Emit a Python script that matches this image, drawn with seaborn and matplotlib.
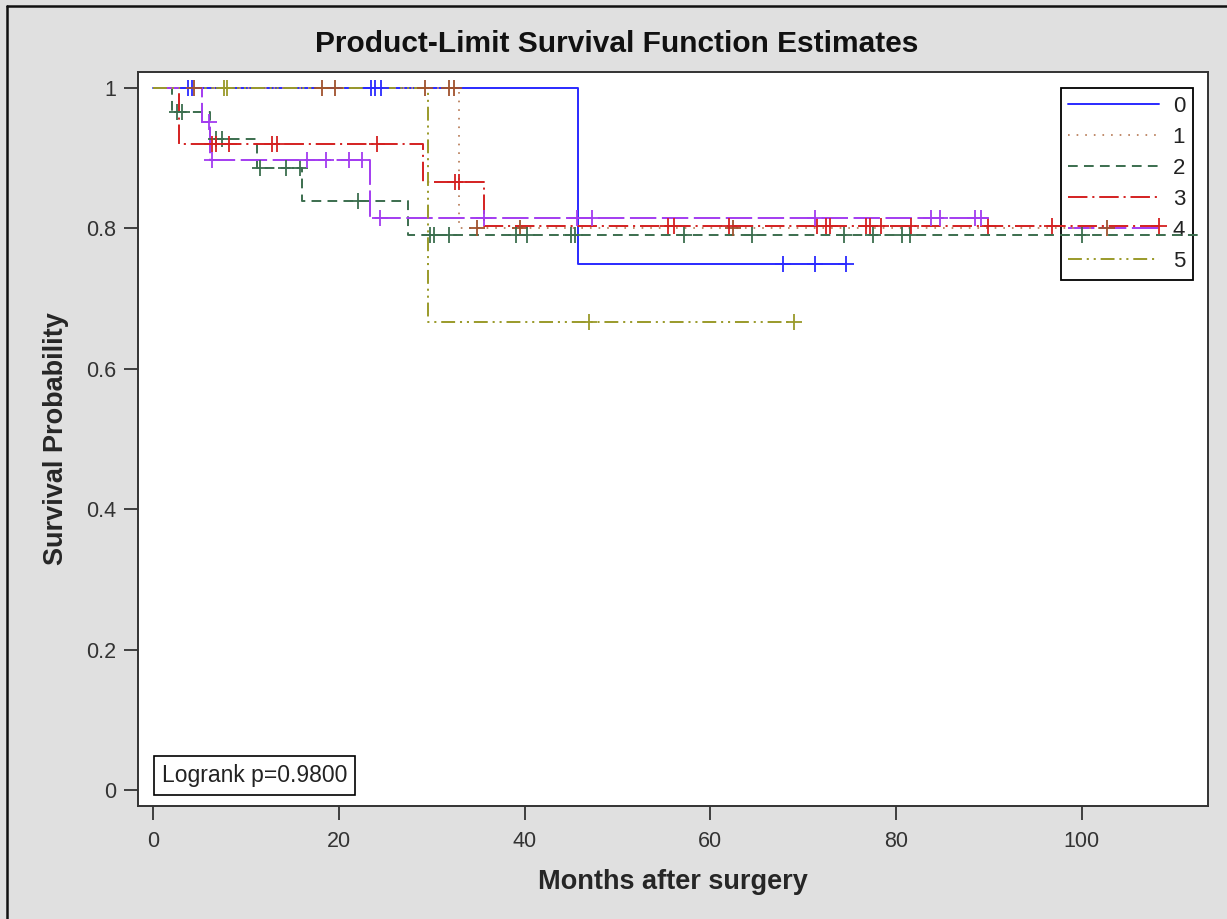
import matplotlib
matplotlib.use("Agg")
import numpy as np
import pandas as pd
import seaborn as sns
import matplotlib.pyplot as plt
from matplotlib.lines import Line2D

# Kaplan-Meier step curves (months, survival)
groups = ["0", "1", "2", "3", "4", "5"]

steps_0 = [45.7]
levels_0 = [1.0, 0.75]
end_0 = 74.6
cens_0 = [3.7, 4.2, 23.5, 23.9, 24.5, 67.8, 71.3, 74.6]

steps_1 = [32.9]
levels_1 = [1.0, 0.80]
end_1 = 102.7
cens_1 = [4.4, 18.2, 19.6, 29.3, 31.9, 32.4, 34.9, 39.5, 62.4, 102.7]

steps_2 = [2.0, 6.1, 11.2, 16.0, 27.4]
levels_2 = [1.0, 0.966, 0.927, 0.886, 0.839, 0.790]
end_2 = 112.6
cens_2 = [2.6, 3.1, 6.8, 7.4, 11.5, 14.3, 15.8, 22.0, 29.8, 30.2, 31.8,
          39.1, 40.3, 45.0, 45.4, 57.2, 64.5, 74.4, 77.5, 80.6, 81.5, 100.0]

steps_3 = [2.8, 29.1, 35.6]
levels_3 = [1.0, 0.920, 0.866, 0.803]
end_3 = 108.3
cens_3 = [6.3, 6.7, 8.2, 12.8, 13.3, 24.1, 32.5, 32.9, 55.4, 56.1, 62.0,
          71.5, 72.5, 72.9, 76.8, 77.2, 78.4, 81.6, 89.9, 96.8, 108.3]

steps_4 = [5.2, 6.1, 23.3]
levels_4 = [1.0, 0.951, 0.897, 0.815]
end_4 = 89.9
cens_4 = [6.0, 6.3, 16.6, 18.6, 21.1, 22.5, 24.4, 35.6, 45.6, 47.3, 71.3,
          83.8, 84.7, 88.5, 89.2]

steps_5 = [29.6]
levels_5 = [1.0, 0.667]
end_5 = 69.0
cens_5 = [7.6, 7.9, 46.9, 69.0]

all_steps = [steps_0, steps_1, steps_2, steps_3, steps_4, steps_5]
all_levels = [levels_0, levels_1, levels_2, levels_3, levels_4, levels_5]
all_ends = [end_0, end_1, end_2, end_3, end_4, end_5]
all_cens = [cens_0, cens_1, cens_2, cens_3, cens_4, cens_5]

colors = ["#2a2aff", "#a0522d", "#3b6e4e", "#d42020", "#a33cf0", "#9a9a2a"]
line_colors = ["#2a2aff", "#c08a6a", "#3b6e4e", "#d42020", "#a33cf0", "#9a9a2a"]
styles = ["-", (0, (1.2, 5.0)), (0, (7, 4.5)), (0, (14, 3.5, 1.5, 3.5)),
          (0, (19, 4)), (0, (10, 3.5, 1.5, 3.5, 1.5, 3.5))]

sns.set_style("ticks")
plt.rcParams["font.family"] = ["Liberation Sans", "DejaVu Sans"]
plt.rcParams["lines.scale_dashes"] = False

fig = plt.figure(figsize=(12.27, 9.19), dpi=100, facecolor="#e0e0e0")
ax = fig.add_axes([138 / 1227, 113 / 919, 1070 / 1227, 734 / 919])
ax.set_facecolor("white")

for i, g in enumerate(groups):
    xs = [0.0] + all_steps[i] + [all_ends[i]]
    ys = all_levels[i] + [all_levels[i][-1]]
    df = pd.DataFrame({"t": xs, "s": ys})
    sns.lineplot(data=df, x="t", y="s", ax=ax, drawstyle="steps-post",
                 color=line_colors[i], linestyle=styles[i], linewidth=1.4,
                 estimator=None, sort=False)
    # censor marks sit on the step curve
    cx = np.array(all_cens[i])
    idx = np.searchsorted(np.array(all_steps[i]), cx, side="right")
    cy = np.array(all_levels[i])[idx]
    sns.scatterplot(x=cx, y=cy, ax=ax, marker="+", s=140, color=colors[i],
                    linewidth=1.3, zorder=3)

ax.set_xlim(-1.65, 113.6)
ax.set_ylim(-0.0228, 1.0228)
ax.set_xticks([0, 20, 40, 60, 80, 100])
ax.set_yticks([0, 0.2, 0.4, 0.6, 0.8, 1.0])
ax.set_yticklabels(["0", "0.2", "0.4", "0.6", "0.8", "1"])
ax.tick_params(axis="both", direction="out", length=10, width=1.3,
               color="#333333", labelsize=15.5, labelcolor="#333333")
ax.tick_params(axis="x", pad=8)
ax.tick_params(axis="y", pad=6)
for sp in ax.spines.values():
    sp.set_visible(True)
    sp.set_color("#333333")
    sp.set_linewidth(1.4)

ax.set_xlabel("Months after surgery", fontsize=19.5, fontweight="bold", labelpad=12)
ax.set_ylabel("Survival Probability", fontsize=19.5, fontweight="bold", labelpad=12)
fig.text(617 / 1227, 1 - 44 / 919, "Product-Limit Survival Function Estimates",
         ha="center", va="center", fontsize=21.5, fontweight="bold", color="#111111")

handles = [Line2D([], [], color=line_colors[i], linestyle=styles[i], linewidth=1.4)
           for i in range(len(groups))]
leg = ax.legend(handles, groups, loc="upper right", bbox_to_anchor=(0.986, 0.978),
                borderaxespad=0, fontsize=16, handlelength=4.1, handletextpad=0.6,
                labelspacing=0.45, borderpad=0.35, fancybox=False, frameon=True)
frame = leg.get_frame()
frame.set_facecolor("none")
frame.set_edgecolor("black")
frame.set_alpha(None)
frame.set_linewidth(1.3)
leg.set_zorder(1)
for t in leg.get_texts():
    t.set_color("#222222")

ax.text(0.0224, 0.041, "Logrank p=0.9800", transform=ax.transAxes, ha="left",
        va="center", fontsize=16.5, color="#222222",
        bbox=dict(boxstyle="square,pad=0.35", fc="white", ec="black", lw=1.2))

# outer frame of the graph window (left and top edges)
fig.add_artist(Line2D([7 / 1227, 7 / 1227], [0, 1 - 6 / 919], color="#111111",
                      lw=1.8, transform=fig.transFigure))
fig.add_artist(Line2D([7 / 1227, 1], [1 - 6 / 919, 1 - 6 / 919], color="#111111",
                      lw=1.8, transform=fig.transFigure))

fig.savefig("out.png", dpi=100, facecolor=fig.get_facecolor())
